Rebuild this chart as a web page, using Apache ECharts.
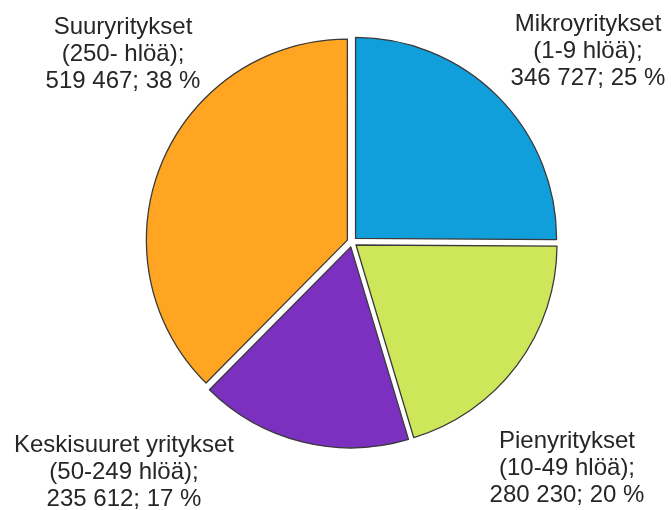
<!DOCTYPE html>
<html>
<head>
<meta charset="utf-8">
<script src="https://cdn.jsdelivr.net/npm/echarts@6/dist/echarts.min.js"></script>
<style>
  html, body { margin: 0; padding: 0; background: #fff; }
  #chart { width: 671px; height: 510px; }
</style>
</head>
<body>
<div id="chart"></div>
<script>
// slices clockwise from 12 o'clock
let names = ['Mikroyritykset', 'Pienyritykset', 'Keskisuuret yritykset', 'Suuryritykset']
let groups = ['(1-9 hlöä);', '(10-49 hlöä);', '(50-249 hlöä);', '(250- hlöä);']
let values = [346727, 280230, 235612, 519467]
let colors = ['#109fdb', '#cde65a', '#7b30c0', '#ffa521']

// label block centres (pixels)
let labelPos = [[588, 51], [567, 468], [124, 472], [123, 54]]

function fmt (v) {
  return String(v).replace(/\B(?=(\d{3})+(?!\d))/g, ' ')
}

let chartDom = document.getElementById('chart')
let myChart = echarts.init(chartDom)

let total = values.reduce((a, b) => a + b, 0)
let data = []
let labels = []
for (let i = 0; i < values.length; i++) {
  data.push({
    name: names[i],
    value: values[i],
    selected: true,
    itemStyle: {color: colors[i]},
    select: {itemStyle: {color: colors[i], borderColor: '#3a3a3a', borderWidth: 1.3}}
  })
  labels.push({
    type: 'text',
    x: labelPos[i][0],
    y: labelPos[i][1],
    style: {
      text: names[i] + '\n' + groups[i] + '\n' + fmt(values[i]) + '; ' +
        Math.round(values[i] / total * 100) + ' %',
      fontFamily: 'Liberation Sans, Arial, sans-serif',
      fontSize: 24,
      lineHeight: 27,
      fill: '#262626',
      align: 'center',
      verticalAlign: 'middle'
    }
  })
}

let option = {
  animation: false,
  graphic: labels,
  series: [
    {
      type: 'pie',
      center: [352, 242],
      radius: 201,
      startAngle: 90,
      clockwise: true,
      selectedMode: 'multiple',
      selectedOffset: 5,
      data: data,
      itemStyle: {borderColor: '#3a3a3a', borderWidth: 1.3},
      emphasis: {disabled: true},
      label: {show: false},
      labelLine: {show: false}
    }
  ]
}
myChart.setOption(option, true)
</script>
</body>
</html>
